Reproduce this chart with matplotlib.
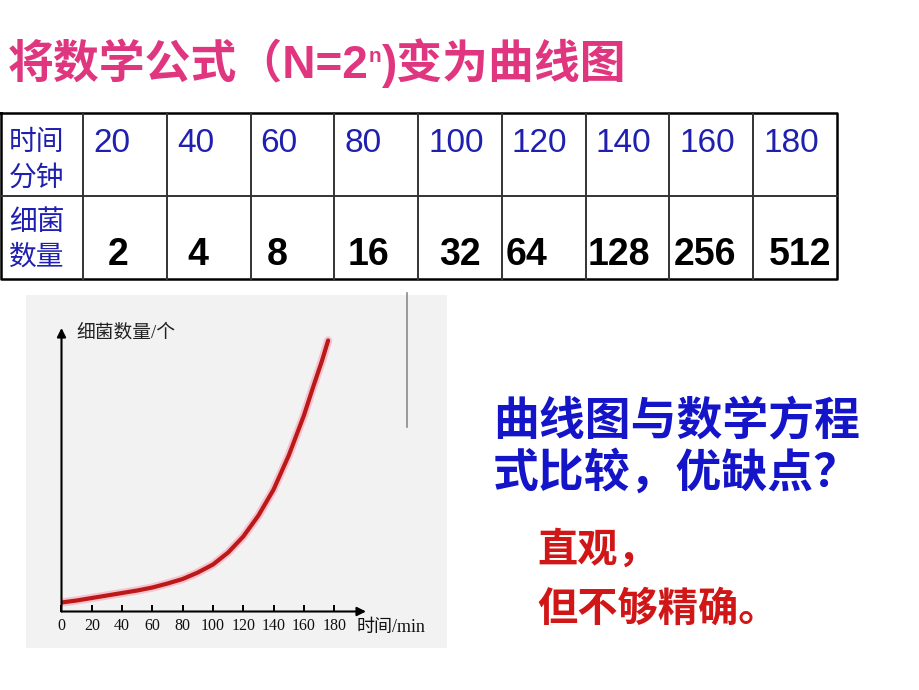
import matplotlib.pyplot as plt
import numpy as np

# table values
times = [20, 40, 60, 80, 100, 120, 140, 160, 180]
counts = [2, 4, 8, 16, 32, 64, 128, 256, 512]
row_labels = [["时间", "分钟"], ["细菌", "数量"]]

# curve of the scanned chart (no y scale given)
curve_t = [0, 10, 20, 30, 40, 50, 60, 70, 80, 90, 100, 110, 120, 130, 140, 150, 160, 166, 172, 176]
curve_n = [9, 11, 13.5, 16, 18.5, 21, 24, 28, 32.5, 39, 47, 59, 75, 96, 122, 156, 196, 224, 251, 271]
tick_t = [0, 20, 40, 60, 80, 100, 120, 140, 160, 180]

PINK = "#e0357f"
BLUE_T = "#1f1fb0"
BLUE = "#1414c8"
RED = "#d01616"
CJK = ["Noto Sans CJK SC", "DejaVu Sans"]
SANS = ["Liberation Sans", "Noto Sans CJK SC"]
SERIF = ["Liberation Serif", "Noto Sans CJK SC"]

fig = plt.figure(figsize=(9.2, 6.9), dpi=100)
lay = fig.add_axes([0, 0, 1, 1])
lay.set_xlim(0, 920)
lay.set_ylim(690, 0)
lay.axis("off")

# title with superscript n
t1 = lay.text(8, 66, "将数学公式（N=2", color=PINK, fontsize=33, fontweight="bold",
              family=SANS, va="center", ha="left")
t2 = lay.annotate("n", xy=(1, 0.93), xycoords=t1, color=PINK, fontsize=15,
                  fontweight="bold", family=SANS, va="top", ha="left")
lay.annotate(")变为曲线图", xy=(1, 0), xycoords=(t2, t1), color=PINK, fontsize=33,
             fontweight="bold", family=SANS, va="bottom", ha="left")

# table grid
edges = 83 + 83.78 * np.arange(len(times) + 1)
top, mid, bot = 113, 196, 279
lay.plot([1, edges[-1], edges[-1], 1, 1], [top, top, bot, bot, top], color="black", lw=1.8)
lay.plot([1, edges[-1]], [mid, mid], color="#333333", lw=1.4)
for e in edges[:-1]:
    lay.plot([e, e], [top, bot], color="#333333", lw=1.4)

for i, lines in enumerate(row_labels):
    ys = [142, 178] if i == 0 else [222, 257]
    for txt, y in zip(lines, ys):
        lay.text(9, y, txt, color=BLUE_T, fontsize=20, family=CJK, va="center", ha="left")

count_dx = [-7, -11, -15, -8, 0, -17, -9, -6, 5]
for k, (t, c) in enumerate(zip(times, counts)):
    lay.text(edges[k] + 10, 143, str(t), color=BLUE_T, fontsize=24, family=SANS,
             va="center", ha="left")
    cx = (edges[k] + edges[k + 1]) / 2 + count_dx[k]
    lay.text(cx, 255, str(c), color="black", fontsize=27, fontweight="bold",
             family=SANS, va="center", ha="center")

# scanned chart panel
lay.add_patch(plt.Rectangle((26, 295), 421, 353, facecolor="#f2f2f2", edgecolor="none"))
lay.plot([407, 407], [293, 427], color="#8a8a8a", lw=1.2)

ax = fig.add_axes([61.5 / 920, (690 - 611.5) / 690, 304.5 / 920, 283.5 / 690])
ax.set_facecolor("none")
ax.set_xlim(0, 201)
ax.set_ylim(0, 283.5)
for s in ax.spines.values():
    s.set_visible(False)
ax.plot(curve_t, curve_n, color="#f6c2cf", lw=6, solid_capstyle="round", solid_joinstyle="round")
ax.plot(curve_t, curve_n, color="#bb1818", lw=3, solid_capstyle="round", solid_joinstyle="round")
arrow = dict(arrowstyle="-|>", color="black", lw=1.5, mutation_scale=13, shrinkA=0, shrinkB=0)
ax.annotate("", xy=(1, 0), xytext=(0, 0), xycoords="axes fraction", arrowprops=arrow)
ax.annotate("", xy=(0, 1), xytext=(0, 0), xycoords="axes fraction", arrowprops=arrow)
ax.set_xticks(tick_t)
ax.set_xticklabels([str(t) for t in tick_t], family="Liberation Serif", fontsize=11.5)
ax.tick_params(axis="x", direction="in", length=5, width=1.4, pad=5, color="black",
               labelcolor="#111111")
ax.set_yticks([])
ax.text(0.97, -0.058, "时间/min", transform=ax.transAxes, fontsize=13,
        family=SERIF, va="center", ha="left", color="#111111")
ax.text(0.05, 0.985, "细菌数量/个", transform=ax.transAxes, fontsize=13.5,
        family=SERIF, va="center", ha="left", color="#222222")

# right side text
lay.text(493, 422, "曲线图与数学方程", color=BLUE, fontsize=33, fontweight="bold",
         family=CJK, va="center", ha="left")
lay.text(493, 474, "式比较，优缺点？", color=BLUE, fontsize=33, fontweight="bold",
         family=CJK, va="center", ha="left")
lay.text(537, 550, "直观，", color=RED, fontsize=29, fontweight="bold",
         family=CJK, va="center", ha="left")
lay.text(537, 609, "但不够精确。", color=RED, fontsize=29, fontweight="bold",
         family=CJK, va="center", ha="left")

fig.savefig("out.png", dpi=100)
plt.close(fig)
